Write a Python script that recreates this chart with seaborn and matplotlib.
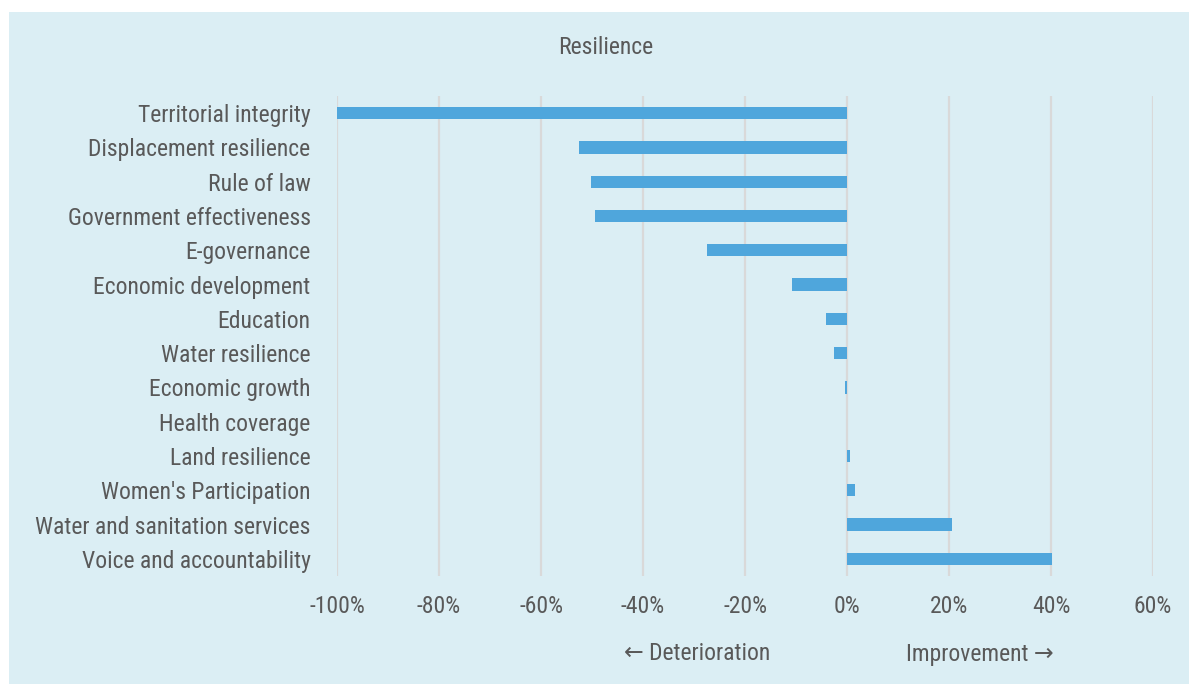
import matplotlib
matplotlib.use("Agg")
import matplotlib.pyplot as plt
from matplotlib import font_manager
from matplotlib.patches import Rectangle
from matplotlib.ticker import FuncFormatter, MultipleLocator
import seaborn as sns
import pandas as pd

# Change in resilience indicators (percent)
indicators = [
    "Territorial integrity",
    "Displacement resilience",
    "Rule of law",
    "Government effectiveness",
    "E-governance",
    "Economic development",
    "Education",
    "Water resilience",
    "Economic growth",
    "Health coverage",
    "Land resilience",
    "Women's Participation",
    "Water and sanitation services",
    "Voice and accountability",
]
change_pct = [-100.0, -52.6, -50.2, -49.4, -27.5, -10.8, -4.1, -2.6,
              -0.4, 0.0, 0.6, 1.6, 20.6, 40.2]

x_ticks = [-100, -80, -60, -40, -20, 0, 20, 40, 60]

title = "Resilience"
left_note = "\u2190 Deterioration"
right_note = "Improvement \u2192"

PANEL = "#dbeef4"
BAR = "#4fa6dc"
TEXT = "#595959"
GRID = "#d9d9d9"
FS = 17

sns.set_theme(style="white")

# Prefer a narrow sans face if one is available
available = {f.name for f in font_manager.fontManager.ttflist}
family = "DejaVu Sans"
for cand in ["Liberation Sans Narrow", "Roboto Condensed", "Open Sans Condensed",
             "Noto Sans Condensed", "Arial Narrow", "Roboto", "Liberation Sans"]:
    if cand in available:
        family = cand
        break
plt.rcParams["font.family"] = [family, "DejaVu Sans"]

W, H = 1189, 684
fig = plt.figure(figsize=(W / 100, H / 100), dpi=100, facecolor="white")

# light blue panel behind the chart
fig.patches.append(Rectangle((9 / W, 0), 1 - 9 / W, 1 - 12 / H,
                             transform=fig.transFigure, facecolor=PANEL,
                             edgecolor="none", zorder=-10))

ax = fig.add_axes([337 / W, 1 - 576 / H, (1153 - 337) / W, (576 - 96) / H])
ax.set_zorder(5)
ax.set_facecolor("none")

df = pd.DataFrame({"indicator": indicators, "change": change_pct})
sns.barplot(data=df, x="change", y="indicator", orient="h", color=BAR,
            saturation=1, width=0.36, linewidth=0, edgecolor="none",
            ax=ax, zorder=3)

ax.set_xlim(x_ticks[0], x_ticks[-1])
ax.set_ylim(len(indicators) - 0.5, -0.5)
ax.xaxis.set_major_locator(MultipleLocator(20))
ax.xaxis.set_major_formatter(FuncFormatter(lambda v, _: f"{v:.0f}%"))
ax.set_axisbelow(True)
ax.grid(axis="x", color=GRID, linewidth=1.6)
ax.grid(axis="y", visible=False)
for s in ax.spines.values():
    s.set_visible(False)

ax.set_xlabel("")
ax.set_ylabel("")
ax.tick_params(axis="y", length=0, pad=19, labelsize=FS, labelcolor=TEXT)
ax.tick_params(axis="x", length=0, pad=14, labelsize=FS, labelcolor=TEXT)

fig.text(606 / W, 1 - 48 / H, title, ha="center", va="center",
         fontsize=FS, color=TEXT)
fig.text(697 / W, 1 - 654 / H, left_note, ha="center", va="center",
         fontsize=FS, color=TEXT)
fig.text(980 / W, 1 - 654 / H, right_note, ha="center", va="center",
         fontsize=FS, color=TEXT)

fig.savefig("out.png", dpi=100, facecolor="white")
